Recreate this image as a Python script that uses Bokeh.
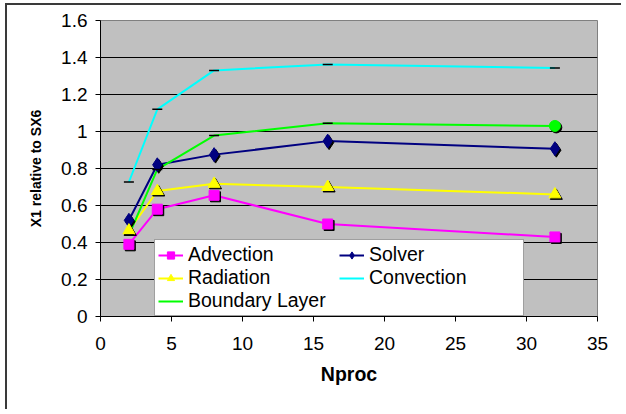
from bokeh.plotting import figure
from bokeh.models import (Legend, LegendItem, FixedTicker,
                          Range1d, NumeralTickFormatter)
from bokeh.transform import dodge
from bokeh.embed import file_html
from bokeh.resources import INLINE

# ---- data ----
nproc = [2, 4, 8, 16, 32]
advection = [0.39, 0.58, 0.655, 0.50, 0.43]
solver = [0.52, 0.82, 0.875, 0.948, 0.907]
radiation = [0.465, 0.678, 0.717, 0.70, 0.66]
convection = [0.727, 1.12, 1.33, 1.362, 1.343]
boundary_layer = [0.44, 0.795, 0.978, 1.045, 1.03]
x_ticks = [0, 5, 10, 15, 20, 25, 30, 35]
y_ticks = [0, 0.2, 0.4, 0.6, 0.8, 1.0, 1.2, 1.4, 1.6]

FONT = "Liberation Sans"

p = figure(width=616, height=406, output_backend="svg", toolbar_location=None,
           x_range=Range1d(0, 35), y_range=Range1d(0, 1.6),
           min_border_left=93, min_border_right=26,
           min_border_top=15, min_border_bottom=95)
p.styles = {"box-shadow": "-2px -2px 0px 0px #3a3a3a",
            "margin-left": "7px", "margin-top": "5px"}
p.background_fill_color = "#C0C0C0"
p.border_fill_color = "white"
p.outline_line_color = "#808080"
p.outline_line_width = 1

# grid
p.xgrid.visible = False
p.ygrid.ticker = FixedTicker(ticks=y_ticks)
p.ygrid.grid_line_color = "black"
p.ygrid.grid_line_width = 1

# axes
for ax in (p.xaxis[0], p.yaxis[0]):
    ax.axis_line_color = "black"
    ax.major_tick_line_color = "black"
    ax.minor_tick_line_color = None
    ax.major_tick_in = 0
    ax.major_tick_out = 5
    ax.major_label_text_font = FONT
    ax.major_label_text_font_size = "19px"
    ax.major_label_text_color = "black"
    ax.axis_label_text_font = FONT
    ax.axis_label_text_font_style = "bold"
    ax.axis_label_text_color = "black"

p.xaxis.ticker = FixedTicker(ticks=x_ticks)
p.yaxis.ticker = FixedTicker(ticks=y_ticks)
p.yaxis.formatter = NumeralTickFormatter(format="0.[0]")
p.xaxis.major_label_standoff = 15
p.yaxis.major_label_standoff = 8
p.xaxis.axis_label = "Nproc"
p.xaxis.axis_label_text_font_size = "19.5px"
p.xaxis.axis_label_standoff = 10
p.yaxis.axis_label = "X1 relative to SX6"
p.yaxis.axis_label_text_font_size = "14px"
p.yaxis.axis_label_standoff = 14


def shadowed(marker, ys, color, size):
    p.scatter(x=dodge("x", 0.1), y=dodge("y", -0.008),
              source=dict(x=nproc, y=ys), marker=marker, size=size,
              fill_color="black", line_color="black")
    return p.scatter(x=nproc, y=ys, marker=marker, size=size,
                     fill_color=color, line_color=color)


# lines
l_adv = p.line(nproc, advection, line_color="#FF00FF", line_width=2)
l_sol = p.line(nproc, solver, line_color="#000080", line_width=2)
l_rad = p.line(nproc, radiation, line_color="#FFFF00", line_width=2)
l_con = p.line(nproc, convection, line_color="#00FFFF", line_width=2)
l_bl = p.line(nproc, boundary_layer, line_color="#00FF00", line_width=2)

# markers
m_adv = shadowed("square", advection, "#FF00FF", 10)
m_sol = shadowed("diamond", solver, "#000080", 14)
m_rad = shadowed("triangle", radiation, "#FFFF00", 12)
p.scatter(x=nproc, y=convection, marker="dash", size=10,
          line_color="black", line_width=1.5)
p.scatter(x=nproc[:-1], y=boundary_layer[:-1], marker="dash", size=10,
          line_color="black", line_width=1.5)
p.scatter(x=dodge("x", 0.1), y=dodge("y", -0.008),
          source=dict(x=nproc[-1:], y=boundary_layer[-1:]),
          marker="circle", size=11, fill_color="black", line_color="black")
p.scatter(x=nproc[-1:], y=boundary_layer[-1:], marker="circle", size=11,
          fill_color="#00FF00", line_color="#00FF00")

legend = Legend(items=[
    LegendItem(label="Advection", renderers=[l_adv, m_adv]),
    LegendItem(label="Radiation", renderers=[l_rad, m_rad]),
    LegendItem(label="Boundary Layer", renderers=[l_bl]),
    LegendItem(label="Solver", renderers=[l_sol, m_sol]),
    LegendItem(label="Convection", renderers=[l_con]),
], location=(54, 0), orientation="vertical", nrows=3)
legend.margin = 0
legend.padding = 3
legend.spacing = 0
legend.glyph_width = 25
legend.glyph_height = 18
legend.label_standoff = 5
legend.label_width = 151
legend.label_height = 18
legend.label_text_font = FONT
legend.label_text_font_size = "19.5px"
legend.label_text_color = "black"
legend.border_line_color = "#404040"
legend.border_line_width = 1.5
legend.background_fill_color = "white"
legend.background_fill_alpha = 1
p.add_layout(legend, "center")

open("out.html", "w").write(file_html(p, INLINE))
